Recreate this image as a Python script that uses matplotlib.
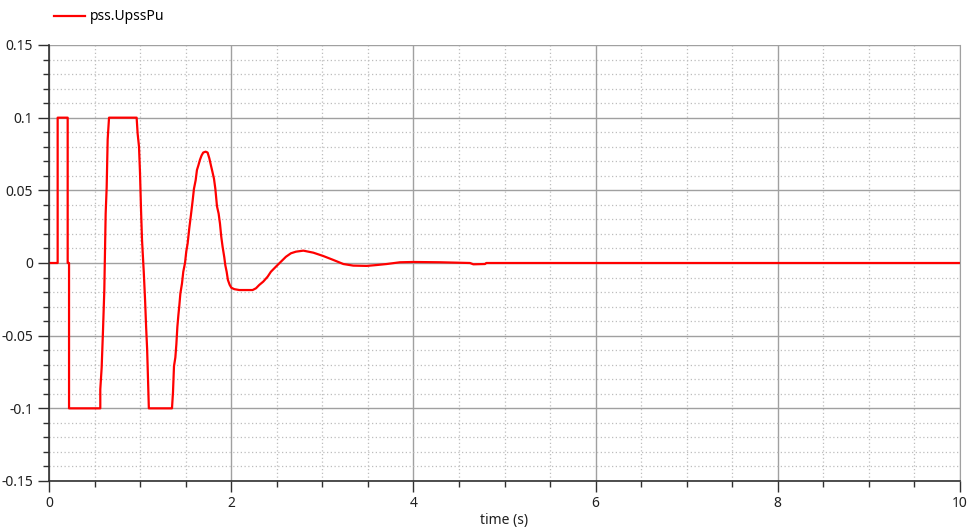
import matplotlib
matplotlib.use("Agg")
import matplotlib.pyplot as plt
from matplotlib.ticker import MultipleLocator

plt.rcParams["font.family"] = ["Noto Sans", "DejaVu Sans"]

# ---- pss.UpssPu (time in s, value in pu) ----
time_s = [
    0.0, 0.095, 0.095, 0.205, 0.205, 0.22, 0.22,
    0.563, 0.563, 0.578, 0.593, 0.607, 0.622, 0.633, 0.644, 0.651, 0.659,
    0.962, 0.973, 0.988, 0.999, 1.010, 1.021, 1.040, 1.055, 1.066, 1.077, 1.085, 1.096,
    1.350, 1.361, 1.372, 1.387, 1.398, 1.409, 1.420, 1.431, 1.442, 1.460, 1.474,
    1.493, 1.507, 1.522, 1.540, 1.558, 1.577, 1.591, 1.610, 1.624, 1.639, 1.657,
    1.675, 1.693, 1.719, 1.741, 1.760, 1.778, 1.793, 1.811, 1.826, 1.844, 1.862,
    1.877, 1.891, 1.906, 1.924, 1.935, 1.950, 1.964, 1.983, 2.001, 2.034, 2.089,
    2.235, 2.272, 2.308, 2.352, 2.400, 2.436, 2.491, 2.546, 2.601, 2.656, 2.711,
    2.792, 2.902, 3.011, 3.121, 3.231, 3.340, 3.487, 3.597, 3.707, 3.853, 3.999,
    4.292, 4.621, 4.658, 4.786, 4.800, 10.0,
]
upss_pu = [
    0.0, 0.0, 0.1, 0.1, 0.0, 0.0, -0.1,
    -0.1, -0.087, -0.072, -0.046, -0.019, 0.034, 0.052, 0.085, 0.092, 0.1,
    0.1, 0.089, 0.080, 0.062, 0.037, 0.016, -0.006, -0.026, -0.044, -0.059, -0.076, -0.1,
    -0.1, -0.089, -0.071, -0.065, -0.056, -0.044, -0.036, -0.029, -0.021, -0.014, -0.006,
    0.0, 0.008, 0.0135, 0.024, 0.033, 0.043, 0.051, 0.057, 0.064, 0.067, 0.071,
    0.074, 0.076, 0.0766, 0.076, 0.072, 0.067, 0.063, 0.058, 0.051, 0.039, 0.034,
    0.027, 0.018, 0.011, 0.004, -0.0014, -0.006, -0.0117, -0.015, -0.017, -0.018, -0.0186,
    -0.0186, -0.0174, -0.0151, -0.0128, -0.0094, -0.006, -0.0025, 0.0009, 0.0043, 0.0067, 0.0078,
    0.0085, 0.0071, 0.0048, 0.0021, -0.0007, -0.0018, -0.002, -0.0014, -0.0007, 0.0005, 0.0007,
    0.0005, 0.0, -0.0009, -0.0007, 0.0, 0.0,
]

fig = plt.figure(figsize=(9.68, 5.29), dpi=100)
ax = fig.add_axes([49 / 968, 48 / 529, 911 / 968, 436 / 529])

line, = ax.plot(time_s, upss_pu, color="red", lw=1.6, label="pss.UpssPu")

ax.set_xlim(0, 10)
ax.set_ylim(-0.15, 0.15)
ax.xaxis.set_major_locator(MultipleLocator(2))
ax.xaxis.set_minor_locator(MultipleLocator(0.5))
ax.yaxis.set_major_locator(MultipleLocator(0.05))
ax.yaxis.set_minor_locator(MultipleLocator(0.01))
ax.set_yticks([-0.15, -0.1, -0.05, 0, 0.05, 0.1, 0.15])
ax.set_yticklabels(["-0.15", "-0.1", "-0.05", "0", "0.05", "0.1", "0.15"])

ax.grid(which="major", color="#a0a0a0", lw=1.0, ls="-")
ax.grid(which="minor", color="#bdbdbd", lw=0.9, ls=(0, (1, 2)))
ax.set_axisbelow(True)

for side in ("left", "bottom"):
    ax.spines[side].set_color("#303030")
    ax.spines[side].set_linewidth(1.2)
ax.spines["right"].set_color("#a0a0a0")
ax.spines["top"].set_visible(False)

ax.tick_params(which="major", length=8, width=1, color="#303030", labelsize=10, labelcolor="#202020")
ax.tick_params(which="minor", length=4, width=1, color="#303030")
ax.tick_params(axis="x", which="major", pad=3)

ax.set_xlabel("time (s)", fontsize=10, color="#202020", labelpad=1)

fig.legend(handles=[line], loc="center left", bbox_to_anchor=(0.043, 1 - 17 / 529),
           frameon=False, fontsize=10, handlelength=2.2, handletextpad=0.4)

fig.savefig("out.png", dpi=100)
